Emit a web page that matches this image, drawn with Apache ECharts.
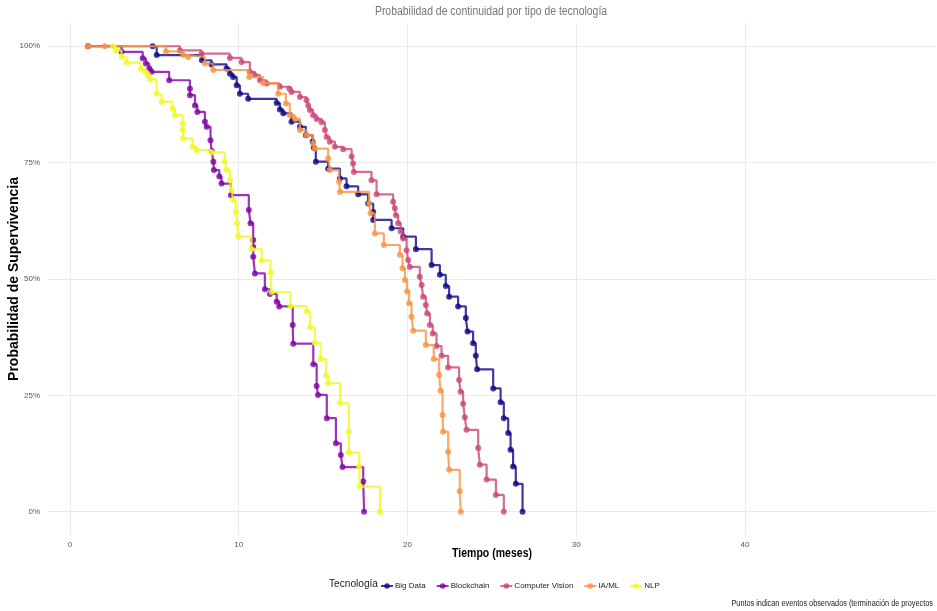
<!DOCTYPE html>
<html lang="es">
<head>
<meta charset="UTF-8">
<title>Supervivencia por tecnología</title>
<style>
  * { margin: 0; padding: 0; }
  #chart { width: 937px; height: 611px; background: #fff; }
</style>
</head>
<body>
<div id="chart"></div>
<script src="https://cdn.jsdelivr.net/npm/echarts@6/dist/echarts.min.js"></script>
<script>
// tiempo (meses), supervivencia (%)
var bigData = [[4.9,100],[5.14,98.1],[7.82,97.0],[8.39,96.1],[9.28,95.2],[9.48,94.1],[9.67,93.4],[9.88,91.6],[10.07,89.8],[10.56,88.7],
  [12.25,87.8],[12.44,86.4],[12.64,85.6],[13.13,83.8],[13.63,82.7],[13.98,80.9],[14.38,79.5],[14.45,78.2],[14.57,75.2],[15.3,73.7],
  [16.0,71.6],[16.39,69.9],[17.08,68.2],[17.67,66.2],[17.97,64.4],[17.97,62.7],[19.06,60.9],[19.75,59.1],[20.5,56.4],[21.43,53.0],
  [21.92,50.9],[22.27,48.5],[22.47,46.2],[23.0,44.1],[23.46,41.6],[23.56,38.7],[23.89,36.2],[24.05,33.5],[24.13,30.6],[25.08,26.5],
  [25.52,23.5],[25.71,20.1],[25.97,16.9],[26.11,13.3],[26.26,9.7],[26.42,6.0],[26.82,0]];
var blockchain = [[1.07,100],[3.06,98.8],[4.31,97.4],[4.5,96.3],[4.7,95.2],[4.84,94.5],[5.88,92.7],[7.11,90.9],[7.11,89.5],[7.41,87.3],
  [7.55,85.9],[8.0,83.8],[8.1,82.7],[8.33,79.8],[8.4,77.5],[8.5,75.2],[8.53,73.4],[8.85,72.0],[8.98,70.5],[9.54,68.0],
  [10.6,64.8],[10.7,62.0],[10.86,58.4],[10.86,56.9],[10.86,54.8],[10.96,51.2],[11.55,47.8],[11.85,46.8],[12.25,45.1],[12.4,44.1],
  [13.2,40.1],[13.23,36.1],[14.42,31.7],[14.62,27.0],[14.7,25.1],[15.22,20.1],[15.76,14.7],[16.05,12.2],[16.15,9.6],[17.38,6.5],[17.43,0]];
var computerVision = [[1.07,100],[6.52,99.1],[7.8,98.4],[9.48,97.5],[10.17,96.6],[10.66,94.5],[10.96,93.8],[11.26,92.7],[11.65,92.0],[12.44,91.3],
  [13.0,90.9],[13.13,90.2],[13.63,89.1],[14.02,88.4],[14.12,87.3],[14.22,86.3],[14.41,85.2],[14.62,84.4],[14.91,83.7],[15.11,82.0],
  [15.21,80.5],[15.4,79.5],[15.7,78.4],[16.19,77.9],[16.69,76.3],[16.78,74.8],[16.82,73.0],[17.87,71.2],[18.17,68.2],[19.15,66.6],
  [19.25,65.2],[19.31,63.7],[19.45,62.0],[19.6,60.2],[19.75,58.7],[19.95,56.2],[20.04,54.1],[20.14,52.6],[20.73,50.5],[20.84,48.7],
  [20.93,46.2],[21.09,44.4],[21.17,42.6],[21.33,40.1],[21.5,38.3],[21.72,35.6],[22.02,33.5],[22.41,31.0],[23.06,28.3],[23.15,25.8],
  [23.3,23.2],[23.4,20.3],[23.5,17.6],[24.19,13.7],[24.29,10.1],[24.69,6.9],[25.24,3.6],[25.71,0]];
var iaMl = [[1.07,100],[2.07,100],[5.69,98.9],[6.71,98.1],[7.0,97.7],[8.0,96.3],[8.49,94.9],[10.62,93.4],[11.45,92.1],[12.34,89.8],
  [12.8,87.7],[13.03,85.2],[13.33,84.4],[13.63,82.0],[14.02,80.9],[14.41,79.1],[14.51,78.0],[15.3,75.9],[15.4,73.4],[15.95,70.9],
  [16.0,68.7],[17.73,66.2],[17.81,64.1],[18.07,59.8],[18.6,57.3],[19.55,55.2],[19.71,52.3],[19.85,49.8],[19.98,47.3],[20.1,44.8],
  [20.24,41.9],[20.34,38.9],[21.09,35.8],[21.56,32.8],[21.88,29.4],[21.96,26.0],[22.08,20.8],[22.11,17.2],[22.41,12.9],[22.47,9.0],
  [23.1,4.4],[23.16,0]];
var nlp = [[2.57,100],[2.73,99.1],[3.06,97.7],[3.36,96.5],[4.2,95.2],[4.44,94.5],[4.64,93.8],[4.74,92.9],[5.13,89.8],[5.43,88.1],
  [6.08,86.6],[6.22,85.2],[6.68,83.4],[6.68,82.0],[6.71,80.2],[7.27,78.4],[7.5,77.7],[8.39,77.2],[9.18,75.2],[9.28,73.4],
  [9.48,71.2],[9.58,69.1],[9.67,67.0],[9.83,64.4],[9.91,62.0],[9.97,59.1],[10.76,56.4],[11.36,54.0],[11.89,51.4],[11.95,47.2],
  [13.07,44.2],[14.02,43.0],[14.22,39.6],[14.51,36.3],[14.85,32.8],[15.17,29.2],[15.3,27.6],[16.0,23.3],[16.53,17.2],[16.53,12.7],
  [17.14,9.7],[17.18,5.4],[18.37,0]];

var tecnologias = ['Big Data', 'Blockchain', 'Computer Vision', 'IA/ML', 'NLP'];
var colores = ['#0D0887', '#7E03A8', '#CC4678', '#F89441', '#F0F921'];
var datos = [bigData, blockchain, computerVision, iaMl, nlp];
var xTicks = [0, 10, 20, 30, 40];
var yTicks = [0, 25, 50, 75, 100];

var fuente = 'Liberation Sans';

var myChart = echarts.init(document.getElementById('chart'));

var series = tecnologias.map(function (name, i) {
    return {
        name: name,
        type: 'line',
        step: 'end',
        data: datos[i],
        symbol: 'circle',
        symbolSize: 6,
        showSymbol: true,
        lineStyle: { width: 2.2, opacity: 0.8 },
        itemStyle: { color: colores[i], opacity: 0.8 },
        z: 2 + i
    };
});

// textos condensados (la imagen original está comprimida en horizontal)
function texto(str, x, y, size, weight, color, sx, align) {
    return {
        type: 'text', x: x, y: y, scaleX: sx, silent: true,
        style: {
            text: str, fill: color, align: align || 'center', verticalAlign: 'middle',
            font: weight + ' ' + size + 'px "' + fuente + '"'
        }
    };
}

var option = {
    animation: false,
    backgroundColor: '#fff',
    color: colores,
    graphic: [
        texto('Probabilidad de continuidad por tipo de tecnología', 491, 12, 12, 'normal', '#777', 0.87),
        texto('Tiempo (meses)', 492, 553, 13, 'bold', '#000', 0.81),
        texto('Tecnología', 329, 584, 11, 'normal', '#222', 0.92, 'left'),
        texto('Puntos indican eventos observados (terminación de proyectos', 933, 604, 8.5, 'normal', '#222', 0.86, 'right')
    ],
    legend: {
        data: tecnologias,
        left: 375, top: 577,
        itemWidth: 12, itemHeight: 7, itemGap: 10,
        textStyle: { fontFamily: fuente, fontSize: 8, color: '#222', padding: [0, 0, 0, -3] }
    },
    grid: { left: 48, right: 2, top: 23, bottom: 76, containLabel: false, outerBoundsMode: 'none' },
    xAxis: {
        type: 'value',
        min: -1.3, max: 51.26,
        axisLine: { show: false },
        axisTick: { show: false, customValues: xTicks },
        axisLabel: { customValues: xTicks, fontFamily: fuente, fontSize: 8, color: '#555', margin: 6 },
        splitLine: { lineStyle: { color: '#ebebeb', width: 1 } }
    },
    yAxis: {
        type: 'value',
        min: -5, max: 105,
        name: 'Probabilidad de Supervivencia',
        nameLocation: 'middle',
        nameGap: 27,
        nameMoveOverlap: false,
        nameTextStyle: { fontFamily: fuente, fontSize: 14, fontWeight: 'bold', color: '#000' },
        axisLine: { show: false },
        axisTick: { show: false, customValues: yTicks },
        axisLabel: { customValues: yTicks, formatter: '{value}%', fontFamily: fuente, fontSize: 8, color: '#555', margin: 8 },
        splitLine: { lineStyle: { color: '#ebebeb', width: 1 } }
    },
    series: series
};

myChart.setOption(option);
</script>
</body>
</html>
